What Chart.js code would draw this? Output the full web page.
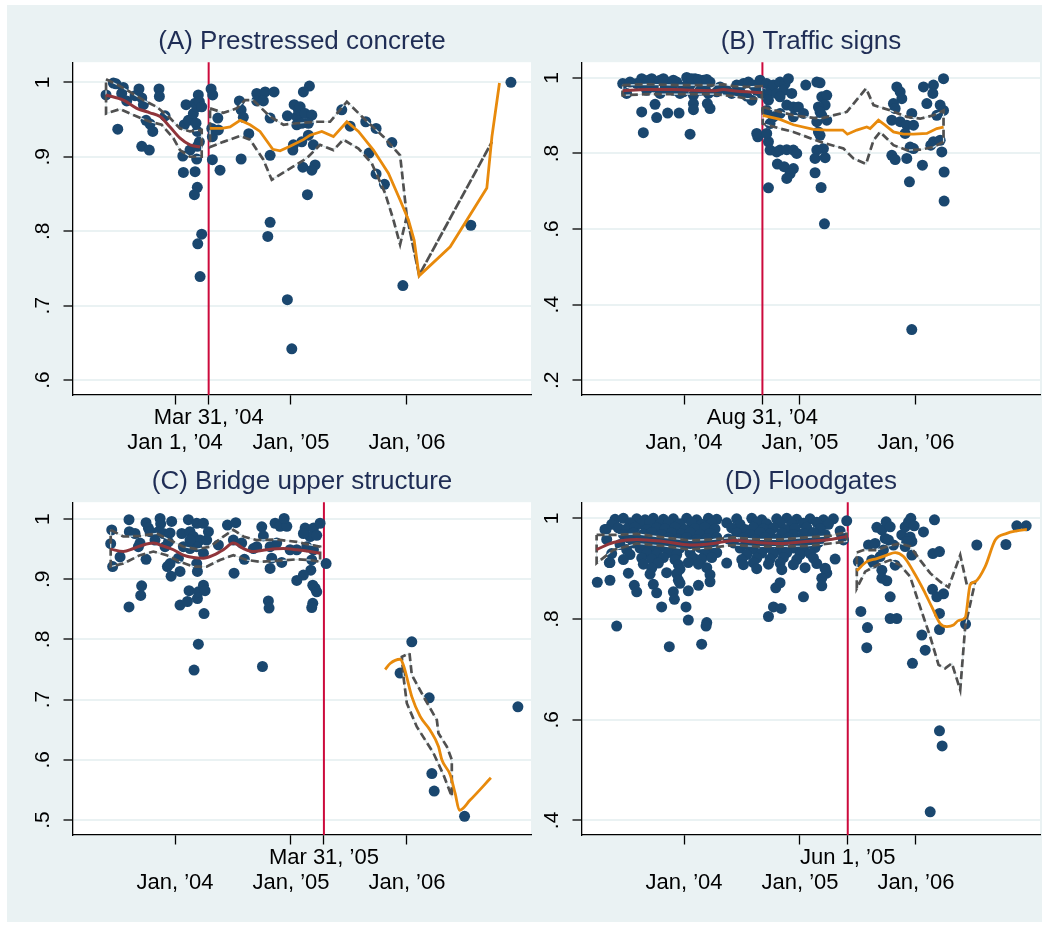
<!DOCTYPE html>
<html>
<head>
<meta charset="utf-8">
<title>Event windows by product</title>
<script src="https://cdn.jsdelivr.net/npm/chart.js"></script>
<style>
  body { margin: 0; background: #fff; }
  #frame { position: absolute; left: 7px; top: 5px; width: 1035px; height: 917px; background: #eaf2f3; }
  canvas { position: absolute; }
</style>
</head>
<body>
<div id="frame"></div>
<canvas id="panelA" width="540" height="460" style="left:0;top:0"></canvas>
<canvas id="panelB" width="540" height="460" style="left:509px;top:0"></canvas>
<canvas id="panelC" width="540" height="460" style="left:0;top:440px"></canvas>
<canvas id="panelD" width="540" height="460" style="left:509px;top:440px"></canvas>
<script>
// x values are decimal years, y values are the ratio on the vertical axis
const xMin = 2003.12, xMax = 2007.07;

// ---- (A) Prestressed concrete
const aTitle = "(A) Prestressed concrete";
const aEvent = 2004.29;
const aXTicks = [2004, 2004.29, 2005, 2006];
const aXLabels = ["Jan 1, ’04", "Mar 31, ’04", "Jan, ’05", "Jan, ’06"];
const aYTicks = [0.6, 0.7, 0.8, 0.9, 1];
const aYLabels = [".6", ".7", ".8", ".9", "1"];
const aYRange = [0.58, 1.027];
const aPoints = [
  [2003.405,.983],[2003.468,.999],[2003.491,.998],[2003.554,.993],[2003.540,.985],[2003.506,.937],[2003.583,.975],[2003.689,.991],
  [2003.655,.982],[2003.713,.979],[2003.727,.970],[2003.750,.949],[2003.784,.944],[2003.808,.934],[2003.713,.914],[2003.778,.909],
  [2003.862,.991],[2003.865,.981],[2003.914,.955],[2004.067,.901],[2004.072,.879],[2004.095,.970],[2004.080,.943],[2004.115,.949],
  [2004.129,.909],[2004.158,.958],[2004.173,.972],[2004.201,.983],[2004.187,.967],[2004.210,.974],[2004.230,.967],[2004.181,.945],
  [2004.192,.934],[2004.210,.920],[2004.192,.914],[2004.187,.897],[2004.173,.880],[2004.192,.859],[2004.167,.849],[2004.230,.796],
  [2004.196,.783],[2004.216,.739],
  [2004.311,.991],[2004.325,.983],[2004.317,.938],[2004.322,.927],[2004.369,.952],[2004.374,.936],[2004.322,.896],[2004.388,.882],
  [2004.555,.975],[2004.570,.963],[2004.589,.953],[2004.636,.931],[2004.570,.897],[2004.705,.985],[2004.705,.975],[2004.777,.987],
  [2004.762,.975],[2004.854,.987],[2004.820,.952],[2004.820,.902],[2004.820,.812],[2004.800,.793],[2004.969,.955],[2004.969,.708],
  [2005.007,.642],[2005.027,.970],[2005.050,.954],[2005.064,.963],[2005.050,.943],[2005.021,.916],[2005.016,.909],
  [2005.159,.995],[2005.107,.987],[2005.079,.967],[2005.122,.958],[2005.180,.956],[2005.150,.945],[2005.093,.945],[2005.150,.929],
  [2005.093,.920],[2005.193,.916],[2005.208,.889],[2005.180,.882],[2005.102,.886],[2005.142,.849],[2005.438,.963],[2005.510,.941],
  [2005.645,.947],[2005.734,.938],[2005.870,.919],[2005.674,.905],[2005.734,.877],[2005.806,.863],[2005.965,.727],[2006.551,.808],
  [2006.897,1.000]
];
const aPreFit = [[2003.405,.983],[2003.554,.976],[2003.670,.965],[2003.784,.959],[2003.871,.954],[2003.957,.940],[2004.043,.925],[2004.129,.916],[2004.216,.913]];
const aPreHi = [[2003.405,1.004],[2003.511,.996],[2003.612,.987],[2003.727,.976],[2003.842,.967],[2003.957,.952],[2004.043,.938],[2004.129,.934],[2004.230,.936]];
const aPreLo = [[2003.405,.958],[2003.526,.964],[2003.641,.956],[2003.784,.947],[2003.885,.943],[2003.985,.925],[2004.043,.909],[2004.129,.900],[2004.230,.900]];
const aPostFit = [[2004.302,.938],[2004.403,.938],[2004.475,.940],[2004.561,.949],[2004.647,.943],[2004.733,.934],[2004.843,.910],[2004.906,.908],
  [2004.992,.914],[2005.107,.923],[2005.165,.929],[2005.266,.934],[2005.366,.927],[2005.482,.947],[2005.582,.934],[2005.711,.909],
  [2005.840,.878],[2005.941,.842],[2006.013,.815],[2006.062,.788],[2006.105,.740],[2006.373,.779],[2006.689,.858],[2006.733,.927],[2006.798,.999]];
const aPostHi = [[2004.302,.965],[2004.417,.959],[2004.532,.965],[2004.604,.976],[2004.673,.976],[2004.820,.954],[2004.935,.943],[2005.050,.945],
  [2005.223,.947],[2005.337,.947],[2005.482,.974],[2005.625,.952],[2005.797,.927],[2005.941,.902],[2005.999,.820],[2006.105,.741],[2006.733,.920]];
const aPostLo = [[2004.302,.913],[2004.417,.920],[2004.561,.928],[2004.647,.923],[2004.762,.896],[2004.834,.869],[2004.906,.876],[2005.021,.887],
  [2005.136,.898],[2005.251,.916],[2005.366,.909],[2005.452,.923],[2005.582,.911],[2005.697,.891],[2005.812,.851],[2005.884,.815],
  [2005.941,.782],[2005.999,.820],[2006.105,.741],[2006.733,.920]];

// ---- (B) Traffic signs
const bTitle = "(B) Traffic signs";
const bEvent = 2004.676;
const bXTicks = [2004, 2004.676, 2005, 2006];
const bXLabels = ["Jan, ’04", "Aug 31, ’04", "Jan, ’05", "Jan, ’06"];
const bYTicks = [0.2, 0.4, 0.6, 0.8, 1];
const bYLabels = [".2", ".4", ".6", ".8", "1"];
const bYRange = [0.161, 1.0415];
const bPoints = [
  [2003.471,.985],[2003.505,.959],[2003.635,.998],[2003.649,.981],[2003.721,.998],[2003.735,.976],[2003.793,.994],[2003.793,.959],
  [2003.850,.989],[2003.879,.972],[2003.937,.989],[2003.965,.959],[2004.023,1.001],[2004.052,.981],[2004.095,.998],[2004.081,.954],
  [2004.167,.994],[2004.181,.972],[2004.224,.989],[2004.210,.959],[2003.750,.930],[2003.635,.910],[2003.764,.895],[2003.859,.907],
  [2003.957,.907],[2004.081,.932],[2004.081,.916],[2004.201,.932],[2004.224,.919],[2003.649,.855],[2004.052,.851],[2004.311,.976],
  [2004.368,.967],[2004.454,.981],[2004.512,.985],[2004.555,.989],[2004.598,.981],[2004.627,.967],[2004.656,.994],[2004.670,.959],
  [2004.584,.941],[2004.636,.844],[2004.627,.853],[2003.592,.985],[2003.678,.967],[2003.908,.967],[2003.994,.976],[2004.138,.967],
  [2004.282,.963],[2004.411,.959],[2004.483,.963],[2004.541,.952],[2003.534,.989],[2003.692,.994],[2003.822,.998],[2003.908,.994],
  [2004.066,.998],[2004.124,.996],[2004.196,.996],[2003.836,.972],[2003.994,.963],
  [2004.713,.985],[2004.742,.963],[2004.771,.981],[2004.828,.989],[2004.871,.985],[2004.900,.998],[2004.857,.967],[2004.799,.959],
  [2004.728,.941],[2004.828,.950],[2004.929,.959],[2004.886,.928],[2004.943,.923],[2004.986,.923],[2005.030,.906],[2005.050,.981],
  [2004.713,.914],[2004.771,.897],[2004.828,.906],[2004.943,.897],[2004.742,.879],[2004.728,.831],[2004.742,.809],[2004.799,.804],
  [2004.828,.809],[2004.886,.810],[2004.943,.809],[2004.972,.800],[2004.805,.772],[2004.863,.765],[2004.943,.760],[2004.915,.747],
  [2004.886,.734],[2004.728,.709],[2004.713,.853],
  [2005.145,.989],[2005.173,.987],[2005.188,.950],[2005.231,.954],[2005.217,.928],[2005.159,.923],[2005.173,.910],[2005.145,.884],
  [2005.231,.888],[2005.188,.901],[2005.159,.857],[2005.173,.848],[2005.202,.813],[2005.145,.809],[2005.130,.787],[2005.217,.789],
  [2005.130,.749],[2005.182,.710],[2005.211,.614],
  [2005.835,.976],[2005.864,.963],[2005.878,.945],[2005.806,.932],[2005.821,.919],[2005.792,.888],[2005.864,.884],[2005.921,.875],
  [2005.964,.906],[2005.979,.875],[2005.907,.853],[2005.950,.817],[2005.979,.813],[2005.921,.787],[2005.792,.795],[2005.821,.784],
  [2006.056,.769],[2005.944,.725],[2005.964,.334],
  [2006.065,.976],[2006.151,.981],[2006.146,.959],[2006.094,.932],[2006.209,.928],[2006.180,.901],[2006.151,.831],[2006.128,.822],
  [2006.223,.804],[2006.238,.998],[2006.238,.914],[2006.243,.751],[2006.243,.674],[2006.209,.835]
];
const bPreFit = [[2003.471,.966],[2003.678,.969],[2003.908,.969],[2004.081,.967],[2004.253,.966],[2004.339,.969],[2004.426,.966],[2004.541,.963],[2004.670,.961]];
const bPreHi = [[2003.471,.981],[2003.678,.983],[2003.965,.981],[2004.253,.981],[2004.339,.983],[2004.426,.978],[2004.541,.976],[2004.670,.978]];
const bPreLo = [[2003.471,.954],[2003.678,.957],[2003.965,.957],[2004.253,.957],[2004.426,.952],[2004.541,.945],[2004.670,.945]];
const bPostFit = [[2004.679,.901],[2004.828,.890],[2004.943,.876],[2005.116,.864],[2005.231,.862],[2005.369,.862],[2005.409,.851],[2005.490,.862],
  [2005.576,.870],[2005.605,.866],[2005.677,.888],[2005.734,.875],[2005.806,.857],[2005.892,.851],[2005.979,.851],[2006.094,.853],[2006.180,.866],[2006.238,.870]];
const bPostHi = [[2004.679,.923],[2004.828,.910],[2004.943,.901],[2005.173,.892],[2005.404,.910],[2005.570,.972],[2005.634,.928],[2005.777,.914],
  [2005.921,.897],[2006.036,.892],[2006.151,.901],[2006.238,.914]];
const bPostLo = [[2004.679,.879],[2004.828,.866],[2004.943,.857],[2005.173,.831],[2005.375,.813],[2005.461,.787],[2005.570,.772],[2005.634,.835],
  [2005.691,.857],[2005.806,.822],[2005.921,.809],[2006.036,.810],[2006.151,.817],[2006.238,.831]];

// ---- (C) Bridge upper structure
const cTitle = "(C) Bridge upper structure";
const cEvent = 2005.284;
const cXTicks = [2004, 2005, 2005.284, 2006];
const cXLabels = ["Jan, ’04", "Jan, ’05", "Mar 31, ’05", "Jan, ’06"];
const cYTicks = [0.5, 0.6, 0.7, 0.8, 0.9, 1];
const cYLabels = [".5", ".6", ".7", ".8", ".9", "1"];
const cYRange = [0.475, 1.028];
const cPoints = [
  [2003.454,.982],[2003.445,.959],[2003.462,.921],[2003.526,.937],[2003.603,.999],[2003.606,.979],[2003.655,.976],[2003.698,.960],
  [2003.684,.954],[2003.750,.994],[2003.770,.985],[2003.784,.979],[2003.750,.933],[2003.712,.889],[2003.704,.873],[2003.603,.854],
  [2003.871,1.001],[2003.876,.992],[2003.971,.996],[2003.856,.979],[2003.899,.976],[2003.957,.977],[2003.943,.962],[2003.914,.954],
  [2003.934,.921],[2003.966,.905],[2003.957,.926],[2004.029,.935],[2004.043,.913],[2004.115,.999],[2004.058,.976],[2004.129,.979],
  [2004.187,.993],[2004.245,.993],[2004.158,.971],[2004.216,.965],[2004.288,.979],[2004.187,.954],[2004.129,.951],[2004.245,.943],
  [2004.187,.926],[2004.193,.913],[2004.121,.881],[2004.193,.868],[2004.201,.879],[2004.245,.890],[2004.259,.881],[2004.250,.843],
  [2004.043,.857],[2004.107,.863],[2004.201,.792],[2004.164,.749],[2004.374,.957],[2004.452,.990],[2004.524,.994],[2004.503,.965],
  [2004.509,.910],[2004.598,.933],[2004.748,.987],[2004.762,.972],[2004.705,.954],[2004.820,.954],[2004.834,.935],[2004.820,.918],
  [2004.920,.928],[2004.863,.993],[2004.906,.988],[2004.964,.988],[2004.941,1.001],[2004.805,.864],[2004.811,.852],[2004.754,.755],
  [2005.122,.985],[2005.194,.985],[2005.251,.993],[2005.165,.971],[2005.222,.973],[2005.136,.954],[2005.194,.949],[2005.179,.932],
  [2005.171,.915],[2005.107,.907],[2005.050,.898],[2005.188,.890],[2005.208,.885],[2005.222,.879],[2005.188,.860],[2005.179,.853],
  [2004.992,.949],[2004.877,.960],[2004.676,.951],[2005.050,.949],[2004.575,.960],[2004.129,.965],[2004.273,.965],[2004.072,.954],
  [2003.827,.965],[2005.107,.976],
  [2005.303,.926],[2006.042,.796],[2005.941,.744],[2006.192,.703],[2006.215,.577],[2006.235,.548],[2006.497,.506],[2006.957,.688]
];
const cPreFit = [[2003.445,.950],[2003.554,.946],[2003.641,.951],[2003.727,.957],[2003.813,.960],[2003.899,.955],[2003.986,.949],[2004.072,.940],
  [2004.158,.936],[2004.245,.935],[2004.331,.940],[2004.417,.949],[2004.503,.960],[2004.590,.951],[2004.676,.946],[2004.791,.949],
  [2004.935,.951],[2005.050,.949],[2005.165,.946],[2005.251,.943]];
const cPreHi = [[2003.445,.982],[2003.554,.971],[2003.698,.972],[2003.842,.976],[2003.957,.965],[2004.072,.954],[2004.187,.950],[2004.302,.954],
  [2004.417,.971],[2004.503,.982],[2004.590,.971],[2004.705,.965],[2004.877,.966],[2005.050,.962],[2005.165,.957],[2005.251,.954]];
const cPreLo = [[2003.445,.921],[2003.554,.926],[2003.698,.940],[2003.813,.946],[2003.928,.940],[2004.043,.929],[2004.158,.921],[2004.273,.921],
  [2004.388,.932],[2004.503,.940],[2004.618,.932],[2004.734,.929],[2004.906,.931],[2005.050,.933],[2005.165,.932],[2005.251,.929]];
const cPostFit = [[2005.812,.750],[2005.855,.760],[2005.941,.767],[2005.970,.757],[2006.042,.705],[2006.114,.672],[2006.200,.649],[2006.272,.622],
  [2006.301,.600],[2006.373,.575],[2006.416,.544],[2006.453,.516],[2006.545,.533],[2006.724,.570]];
const cPostHi = [[2006.022,.777],[2006.042,.741],[2006.143,.705],[2006.258,.666],[2006.272,.644],[2006.344,.622],[2006.387,.600],[2006.387,.539]];
const cPostLo = [[2005.956,.771],[2005.970,.738],[2005.999,.694],[2006.085,.655],[2006.157,.633],[2006.229,.611],[2006.315,.575],[2006.387,.539]];

// ---- (D) Floodgates
const dTitle = "(D) Floodgates";
const dEvent = 2005.412;
const dXTicks = [2004, 2005, 2005.412, 2006];
const dXLabels = ["Jan, ’04", "Jan, ’05", "Jun 1, ’05", "Jan, ’06"];
const dYTicks = [0.4, 0.6, 0.8, 1];
const dYLabels = [".4", ".6", ".8", "1"];
const dYRange = [0.371, 1.032];
const dPoints = [
  [2003.405,.998],[2003.477,1.0],[2003.592,.999],[2003.664,.997],[2003.735,1.0],[2003.822,.998],[2003.908,.999],[2004.023,1.0],
  [2004.109,.997],[2004.210,1.0],[2004.282,.998],[2004.454,.999],[2004.584,1.0],[2004.670,.997],[2004.799,.999],[2004.886,1.0],
  [2004.972,.998],[2005.087,.999],[2005.202,.997],[2005.288,.999],[2005.403,.995],
  [2003.376,.988],[2003.534,.991],[2003.635,.989],[2003.707,.992],[2003.793,.988],[2003.865,.991],[2003.965,.989],[2004.066,.992],
  [2004.152,.988],[2004.239,.990],[2004.368,.991],[2004.483,.988],[2004.627,.992],[2004.713,.989],[2004.828,.991],[2004.929,.988],
  [2005.030,.990],[2005.145,.992],[2005.245,.988],
  [2003.318,.978],[2003.433,.981],[2003.505,.979],[2003.577,.982],[2003.678,.978],[2003.764,.981],[2003.836,.979],[2003.922,.982],
  [2004.009,.978],[2004.095,.980],[2004.181,.982],[2004.267,.979],[2004.411,.981],[2004.526,.978],[2004.598,.982],[2004.685,.979],
  [2004.771,.981],[2004.871,.978],[2004.958,.980],[2005.058,.982],[2005.173,.979],[2005.346,.975],
  [2003.477,.968],[2003.563,.971],[2003.649,.969],[2003.721,.972],[2003.807,.968],[2003.894,.971],[2003.980,.969],[2004.052,.972],
  [2004.138,.968],[2004.224,.970],[2004.454,.971],[2004.570,.968],[2004.656,.972],[2004.742,.969],[2004.843,.971],[2004.943,.968],
  [2005.030,.970],[2005.116,.972],[2005.217,.968],
  [2003.333,.958],[2003.520,.961],[2003.606,.959],[2003.692,.962],[2003.779,.958],[2003.865,.961],[2003.951,.959],[2004.023,.962],
  [2004.109,.958],[2004.196,.960],[2004.282,.962],[2004.382,.959],[2004.512,.961],[2004.613,.958],[2004.699,.962],[2004.799,.959],
  [2004.900,.961],[2005.001,.958],[2005.087,.960],[2005.188,.962],
  [2003.448,.948],[2003.563,.951],[2003.649,.949],[2003.735,.952],[2003.822,.948],[2003.908,.951],[2003.994,.949],[2004.081,.952],
  [2004.167,.948],[2004.253,.950],[2004.426,.951],[2004.541,.948],[2004.656,.952],[2004.756,.949],[2004.857,.951],[2004.958,.948],
  [2005.058,.950],[2005.159,.952],
  [2003.505,.938],[2003.620,.941],[2003.707,.939],[2003.793,.942],[2003.879,.938],[2003.965,.941],[2004.052,.939],[2004.138,.942],
  [2004.224,.938],[2004.483,.941],[2004.598,.939],[2004.713,.942],[2004.828,.938],[2004.943,.941],[2005.030,.939],[2005.130,.942],
  [2003.376,.930],[2003.534,.928],[2003.678,.931],[2003.764,.929],[2003.865,.932],[2003.937,.928],[2004.052,.931],[2004.181,.929],
  [2004.282,.932],[2004.541,.928],[2004.670,.931],[2004.771,.929],[2004.886,.932],[2005.001,.928],[2005.087,.930],
  [2003.477,.918],[2003.635,.921],[2003.721,.919],[2003.822,.922],[2003.922,.918],[2004.081,.921],[2004.152,.919],[2004.239,.922],
  [2004.498,.918],[2004.627,.921],[2004.742,.919],[2004.857,.922],[2004.972,.918],[2005.116,.921],[2005.303,.919],
  [2003.361,.912],[2003.649,.909],[2003.779,.911],[2003.951,.908],[2004.037,.912],[2004.124,.909],[2004.368,.911],[2004.512,.908],
  [2004.598,.912],[2004.728,.909],[2004.828,.911],[2004.943,.908],[2005.145,.910],
  [2003.721,.901],[2003.965,.899],[2004.196,.902],[2004.627,.900],[2004.843,.898],[2005.044,.902],[2005.217,.900],
  [2003.520,.891],[2003.707,.889],[2003.850,.892],[2003.937,.890],[2004.224,.888],[2005.231,.891],
  [2003.327,.978],[2003.356,.912],[2005.375,.957],[2005.360,.965],
  [2003.252,.873],[2003.361,.877],[2003.419,.786],[2003.571,.867],[2003.592,.854],[2003.735,.869],[2003.764,.852],[2003.807,.824],
  [2003.908,.854],[2003.917,.839],[2003.951,.877],[2003.965,.871],[2004.017,.824],[2004.037,.798],[2004.037,.856],[2004.124,.867],
  [2004.196,.793],[2004.190,.786],[2004.224,.874],[2004.152,.750],[2003.873,.745],[2004.791,.862],[2004.828,.872],[2004.771,.824],
  [2004.837,.821],[2004.728,.805],[2005.030,.844],[2005.188,.881],[2005.188,.866],[2005.217,.901],
  [2005.504,.914],[2005.525,.815],[2005.582,.783],[2005.576,.743],[2005.591,.947],[2005.648,.950],[2005.663,.982],[2005.706,.977],
  [2005.743,.993],[2005.778,.983],[2005.735,.960],[2005.763,.957],[2005.806,.947],[2005.720,.937],[2005.634,.911],[2005.706,.897],
  [2005.706,.881],[2005.749,.876],[2005.778,.844],[2005.778,.801],[2005.835,.801],[2005.821,.907],[2005.878,.967],[2005.907,.983],
  [2005.936,.993],[2005.956,1.000],[2005.985,.985],[2005.950,.963],[2005.965,.954],[2005.907,.944],[2005.965,.927],[2006.065,.973],
  [2006.160,.997],[2006.146,.930],[2006.203,.934],[2006.143,.859],[2006.180,.844],[2006.238,.850],[2006.203,.811],[2006.203,.779],
  [2006.051,.768],[2006.080,.738],[2005.970,.712],[2006.203,.578],[2006.226,.548],[2006.123,.417],[2006.428,.790],[2006.525,.947],
  [2006.776,.948],[2006.870,.985],[2006.951,.985],[2005.921,.954],[2005.619,.917],[2005.691,.924]
];
const dPreFit = [[2003.246,.938],[2003.390,.952],[2003.592,.958],[2003.822,.954],[2004.052,.947],[2004.253,.950],[2004.426,.956],[2004.627,.952],
  [2004.828,.950],[2005.058,.954],[2005.259,.958],[2005.403,.964]];
const dPreHi = [[2003.246,.967],[2003.390,.967],[2003.592,.969],[2003.822,.962],[2004.052,.956],[2004.253,.958],[2004.426,.962],[2004.627,.958],
  [2004.828,.958],[2005.058,.962],[2005.259,.965],[2005.403,.973]];
const dPreLo = [[2003.246,.911],[2003.390,.937],[2003.592,.950],[2003.822,.945],[2004.052,.938],[2004.253,.942],[2004.426,.947],[2004.627,.944],
  [2004.828,.944],[2005.058,.945],[2005.259,.950],[2005.403,.954]];
const dPostFit = [[2005.490,.896],[2005.576,.914],[2005.663,.920],[2005.749,.927],[2005.821,.932],[2005.893,.924],[2005.979,.894],[2006.065,.858],
  [2006.137,.824],[2006.209,.791],[2006.267,.785],[2006.324,.788],[2006.367,.797],[2006.425,.803],[2006.468,.868],[2006.511,.874],
  [2006.597,.904],[2006.684,.957],[2006.784,.970],[2006.870,.975],[2006.957,.978]];
const dPostHi = [[2005.490,.932],[2005.548,.937],[2005.663,.937],[2005.749,.944],[2005.864,.950],[2005.950,.944],[2006.036,.917],[2006.123,.891],
  [2006.209,.874],[2006.281,.863],[2006.382,.927],[2006.439,.868],[2006.511,.874]];
const dPostLo = [[2005.490,.861],[2005.562,.894],[2005.663,.907],[2005.778,.917],[2005.864,.907],[2005.950,.884],[2006.036,.824],[2006.123,.765],
  [2006.195,.709],[2006.252,.702],[2006.310,.712],[2006.382,.659],[2006.425,.785],[2006.511,.874]];

const FONT = '"Liberation Sans", Arial, Helvetica, sans-serif';
const NAVY = '#1a476f', MAROON = '#90353b', ORANGE = '#e88a0c', EVENT_RED = '#cc0a3c', CI_GREY = '#505050';

function xy(arr) { return arr.map(p => ({ x: p[0], y: p[1] })); }
// confidence band drawn as a closed outline: upper edge forward, lower edge back
function outline(hi, lo) { return xy(hi.concat(lo.slice().reverse(), [hi[0]])); }

function lineSet(data, color, width, extra) {
  return Object.assign({ type: 'scatter', data: data, showLine: true, pointRadius: 0,
    borderColor: color, borderWidth: width, fill: false }, extra || {});
}

function bandSets(hi, lo) {
  const d = outline(hi, lo);
  return [
    lineSet(d, '#d9e5e8', 1.2, { order: 4 }),
    lineSet(d, CI_GREY, 2.7, { order: 3, borderDash: [8, 4] })
  ];
}

function drawPanel(id, p) {
  const postMode = p.smoothPost ? { cubicInterpolationMode: 'monotone' } : {};
  const datasets = [
    { type: 'scatter', data: xy(p.points), pointRadius: 5.5, pointBackgroundColor: NAVY,
      pointBorderWidth: 0, order: 5 },
    ...bandSets(p.preHi, p.preLo),
    ...bandSets(p.postHi, p.postLo),
    lineSet(xy(p.preFit), MAROON, 3, { order: 1, cubicInterpolationMode: 'monotone' }),
    lineSet(xy(p.postFit), ORANGE, 2.8, Object.assign({ order: 1 }, postMode))
  ];

  const plotBg = {
    id: 'plotBg',
    beforeDraw(chart) {
      const a = chart.chartArea, ctx = chart.ctx;
      ctx.save();
      ctx.fillStyle = '#ffffff';
      ctx.fillRect(a.left, a.top, a.right - a.left, a.bottom - a.top);
      ctx.restore();
    }
  };
  const eventLine = {
    id: 'eventLine',
    beforeDatasetsDraw(chart) {
      const a = chart.chartArea, ctx = chart.ctx;
      const x = chart.scales.x.getPixelForValue(p.event);
      ctx.save();
      ctx.strokeStyle = EVENT_RED;
      ctx.lineWidth = 2;
      ctx.beginPath();
      ctx.moveTo(x, a.top);
      ctx.lineTo(x, a.bottom);
      ctx.stroke();
      ctx.restore();
    }
  };

  new Chart(document.getElementById(id), {
    type: 'scatter',
    data: { datasets: datasets },
    options: {
      responsive: false,
      animation: false,
      events: [],
      layout: { padding: { left: 0, right: 9, top: 0, bottom: 5 } },
      plugins: {
        legend: { display: false },
        tooltip: { enabled: false },
        title: {
          display: true, text: p.title, fullSize: false, color: '#1f2d55',
          font: { family: FONT, size: 26, weight: 'normal', lineHeight: 1.2 },
          padding: { top: 26, bottom: 5 }
        }
      },
      scales: {
        x: {
          type: 'linear', min: xMin, max: xMax,
          afterBuildTicks: s => { s.ticks = p.xTicks.map(v => ({ value: v })); },
          afterFit: s => { s.height = 60; },
          ticks: {
            autoSkip: false, maxRotation: 0, minRotation: 0, padding: 1, color: '#000',
            font: { family: FONT, size: 22, lineHeight: 1.14 },
            callback: (v, i) => (p.xTicks[i] === p.event ? [p.xLabels[i]] : ['', p.xLabels[i]])
          },
          grid: { drawOnChartArea: false, drawTicks: true, tickLength: 9.5, tickColor: '#000', tickWidth: 1.3 },
          border: { display: true, color: '#000', width: 1.3 }
        },
        y: {
          type: 'linear', min: p.yRange[0], max: p.yRange[1],
          afterBuildTicks: s => { s.ticks = p.yTicks.map(v => ({ value: v })); },
          afterFit: s => { s.width = 73; },
          ticks: {
            minRotation: 90, maxRotation: 90, crossAlign: 'center', padding: 12, color: '#000',
            font: { family: FONT, size: 21 },
            callback: (v, i) => p.yLabels[i]
          },
          grid: { color: '#eaf2f3', lineWidth: 2, drawTicks: true, tickLength: 9.5, tickColor: '#000', tickWidth: 1.3 },
          border: { display: true, color: '#000', width: 1.3 }
        }
      }
    },
    plugins: [plotBg, eventLine]
  });
}

drawPanel('panelA', { title: aTitle, event: aEvent, xTicks: aXTicks, xLabels: aXLabels, yTicks: aYTicks, yLabels: aYLabels, yRange: aYRange,
  points: aPoints, preFit: aPreFit, preHi: aPreHi, preLo: aPreLo, postFit: aPostFit, postHi: aPostHi, postLo: aPostLo, smoothPost: false });
drawPanel('panelB', { title: bTitle, event: bEvent, xTicks: bXTicks, xLabels: bXLabels, yTicks: bYTicks, yLabels: bYLabels, yRange: bYRange,
  points: bPoints, preFit: bPreFit, preHi: bPreHi, preLo: bPreLo, postFit: bPostFit, postHi: bPostHi, postLo: bPostLo, smoothPost: false });
drawPanel('panelC', { title: cTitle, event: cEvent, xTicks: cXTicks, xLabels: cXLabels, yTicks: cYTicks, yLabels: cYLabels, yRange: cYRange,
  points: cPoints, preFit: cPreFit, preHi: cPreHi, preLo: cPreLo, postFit: cPostFit, postHi: cPostHi, postLo: cPostLo, smoothPost: true });
drawPanel('panelD', { title: dTitle, event: dEvent, xTicks: dXTicks, xLabels: dXLabels, yTicks: dYTicks, yLabels: dYLabels, yRange: dYRange,
  points: dPoints, preFit: dPreFit, preHi: dPreHi, preLo: dPreLo, postFit: dPostFit, postHi: dPostHi, postLo: dPostLo, smoothPost: true });
</script>
</body>
</html>
